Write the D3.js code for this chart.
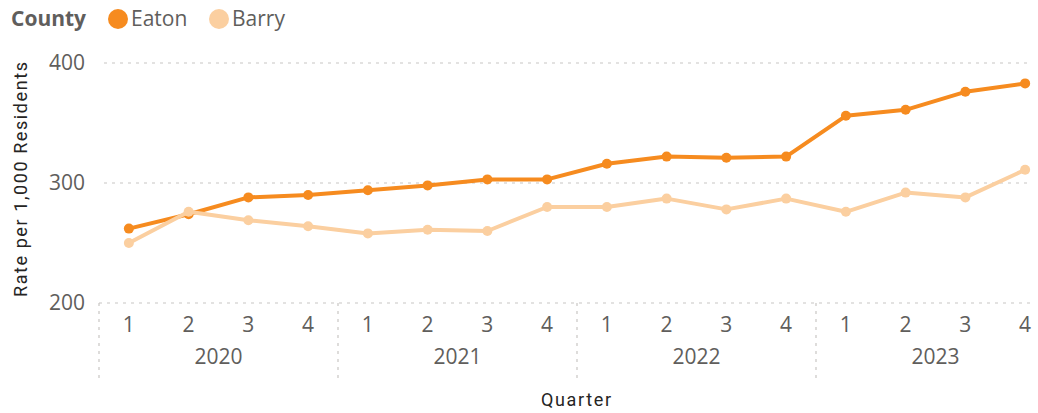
<!DOCTYPE html>
<html>
<head>
<meta charset="utf-8">
<script src="https://cdn.jsdelivr.net/npm/d3@7"></script>
<style>
  body { margin: 0; background: #fff; }
  svg { display: block; font-family: "Segoe UI", "Open Sans", "Noto Sans", sans-serif; }
</style>
</head>
<body>
<div id="chart"></div>
<script>
const years = ["2020", "2021", "2022", "2023"];
const quarters = ["1", "2", "3", "4"];
const counties = ["Eaton", "Barry"];
const eatonValues = [262, 274, 288, 290, 294, 298, 303, 303, 316, 322, 321, 322, 356, 361, 376, 383];
const barryValues = [250, 276, 269, 264, 258, 261, 260, 280, 280, 287, 278, 287, 276, 292, 288, 311];
const yTicks = [200, 300, 400];

const width = 1038, height = 413;
const margin = {left: 99, right: -17, top: 63, bottom: 110};

const colors = {Eaton: "#F68B1F", Barry: "#FBCFA0"};
const gridColor = "#C8C6C4";
const textGray = "#605E5C";

const keys = years.flatMap(y => quarters.map(q => `${y}-${q}`));
const series = [
    {name: "Eaton", values: eatonValues},
    {name: "Barry", values: barryValues}
];

const svg = d3.select("#chart").append("svg")
    .attr("width", width)
    .attr("height", height);

const x = d3.scaleBand()
    .domain(keys)
    .range([margin.left, width - margin.right])
    .padding(0);

const y = d3.scaleLinear()
    .domain([200, 400])
    .range([height - margin.bottom, margin.top]);

// gridlines
svg.append("g")
    .selectAll("line")
    .data(yTicks)
    .join("line")
    .attr("x1", d => d === 200 ? margin.left : margin.left + 5)
    .attr("x2", 1032)
    .attr("y1", d => y(d))
    .attr("y2", d => y(d))
    .attr("stroke", gridColor)
    .attr("stroke-width", 1.2)
    .attr("stroke-dasharray", "3,5");

// y tick labels
svg.append("g")
    .selectAll("text")
    .data(yTicks)
    .join("text")
    .attr("x", 85)
    .attr("y", d => y(d))
    .attr("dy", "0.35em")
    .attr("text-anchor", "end")
    .attr("fill", textGray)
    .style("font-size", "21px")
    .text(d => d);

// year separators
const yearEdges = years.map(yr => x(`${yr}-1`));
svg.append("g")
    .selectAll("line")
    .data(yearEdges)
    .join("line")
    .attr("x1", d => d)
    .attr("x2", d => d)
    .attr("y1", y(200))
    .attr("y2", 381)
    .attr("stroke", gridColor)
    .attr("stroke-width", 1.2)
    .attr("stroke-dasharray", "3,5");

// quarter labels
svg.append("g")
    .selectAll("text")
    .data(keys)
    .join("text")
    .attr("x", d => x(d) + x.bandwidth() / 2)
    .attr("y", 325)
    .attr("dy", "0.35em")
    .attr("text-anchor", "middle")
    .attr("fill", textGray)
    .style("font-size", "21px")
    .text(d => d.split("-")[1]);

// year labels
svg.append("g")
    .selectAll("text")
    .data(years)
    .join("text")
    .attr("x", d => x(`${d}-1`) + x.bandwidth() * 2)
    .attr("y", 357)
    .attr("dy", "0.35em")
    .attr("text-anchor", "middle")
    .attr("fill", textGray)
    .style("font-size", "21px")
    .text(d => d);

// axis titles (DIN-like look)
svg.append("text")
    .attr("x", 541)
    .attr("y", 400)
    .attr("dy", "0.35em")
    .attr("textLength", 70)
    .attr("lengthAdjust", "spacing")
    .attr("fill", "#252423")
    .style("font-family", "Roboto, sans-serif")
    .style("font-size", "18px")
    .text("Quarter");

svg.append("text")
    .attr("transform", `translate(21,297) rotate(-90)`)
    .attr("dy", "0.35em")
    .attr("textLength", 235)
    .attr("lengthAdjust", "spacing")
    .attr("fill", "#252423")
    .style("font-family", "Roboto, sans-serif")
    .style("font-size", "18px")
    .text("Rate per 1,000 Residents");

// lines
const line = d3.line()
    .x((d, i) => x(keys[i]) + x.bandwidth() / 2)
    .y(d => y(d));

const seriesG = svg.append("g")
    .selectAll("g")
    .data(series)
    .join("g");

seriesG.append("path")
    .attr("fill", "none")
    .attr("stroke", d => colors[d.name])
    .attr("stroke-width", 4)
    .attr("stroke-linejoin", "round")
    .attr("d", d => line(d.values));

seriesG.selectAll("circle")
    .data(d => d.values.map((v, i) => ({v, i, name: d.name})))
    .join("circle")
    .attr("cx", d => x(keys[d.i]) + x.bandwidth() / 2)
    .attr("cy", d => y(d.v))
    .attr("r", 5)
    .attr("fill", d => colors[d.name]);

// legend
const legend = svg.append("g");
legend.append("text")
    .attr("x", 11)
    .attr("y", 19)
    .attr("dy", "0.35em")
    .attr("fill", textGray)
    .style("font-size", "21px")
    .style("font-weight", "bold")
    .text("County");

const legendX = [118, 219];
counties.forEach((c, i) => {
    legend.append("circle")
        .attr("cx", legendX[i])
        .attr("cy", 19)
        .attr("r", 10)
        .attr("fill", colors[c]);
    legend.append("text")
        .attr("x", legendX[i] + 13)
        .attr("y", 19)
        .attr("dy", "0.35em")
        .attr("fill", textGray)
        .style("font-size", "21px")
        .text(c);
});
</script>
</body>
</html>
